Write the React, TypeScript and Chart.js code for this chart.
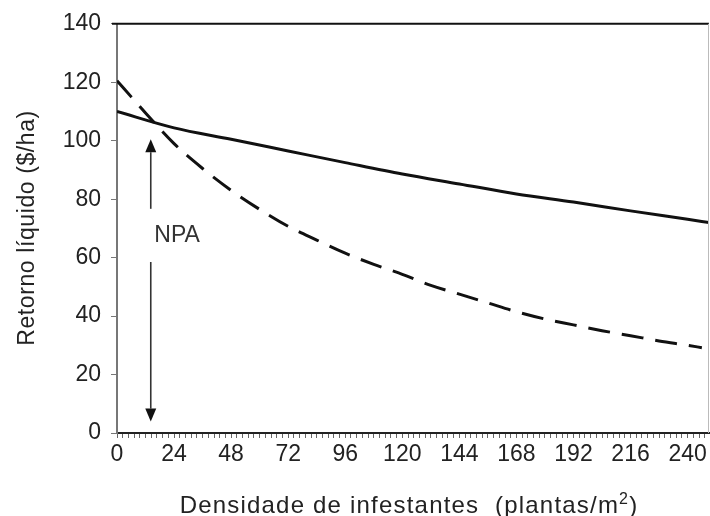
import React, { useEffect, useRef } from "react";
import { Chart, registerables } from "chart.js";

Chart.register(...registerables);

// ---- data ----
const solidX = [0, 24, 48, 72, 96, 120, 144, 168, 192, 216, 240, 249];
const solidY = [110, 104.4, 100.5, 96.5, 92.5, 88.6, 85.2, 81.8, 79, 76, 73.1, 72];

const dashX = [0, 6, 12, 24, 36, 48, 60, 72, 84, 96, 108, 120, 132, 144, 156, 168, 180, 192, 204, 216, 228, 240, 246];
const dashY = [120.5, 115, 109.5, 99, 90.5, 83, 76.5, 70.7, 66, 61.5, 57.7, 54.3, 50.5, 47.5, 44.5, 41.5, 39, 37, 35, 33.3, 31.5, 30, 29.2];

const xTickLabels = [0, 24, 48, 72, 96, 120, 144, 168, 192, 216, 240];
const yTickLabels = [0, 20, 40, 60, 80, 100, 120, 140];

const xTitleMain = "Densidade de infestantes  (plantas/m";
const xTitleSup = "2";
const xTitleEnd = ")";
const yTitle = "Retorno líquido ($/ha)";
const npaLabel = "NPA";

const arrowX = 14.2;
const arrowUpFrom = 76.7;
const arrowUpTo = 100.5;
const arrowDownFrom = 58.5;
const arrowDownTo = 3.9;
const npaX = 25.3;
const npaY = 67.6;

const FONT = "'Liberation Sans', Arial, Helvetica, sans-serif";
const W = 710;
const H = 516;

const decor = {
  id: "decor",
  afterDraw(chart: any) {
    const ctx: CanvasRenderingContext2D = chart.ctx;
    const ca = chart.chartArea;
    const xs = chart.scales.x;
    const ys = chart.scales.y;
    ctx.save();
    // top frame line
    ctx.strokeStyle = "#111";
    ctx.lineWidth = 2;
    ctx.beginPath();
    ctx.moveTo(ca.left - 5, ca.top);
    ctx.lineTo(ca.right, ca.top);
    ctx.stroke();
    // right faint frame
    ctx.strokeStyle = "#bbb";
    ctx.lineWidth = 1;
    ctx.beginPath();
    ctx.moveTo(ca.right - 0.5, ca.top);
    ctx.lineTo(ca.right - 0.5, ca.bottom);
    ctx.stroke();

    // arrows
    const ax = xs.getPixelForValue(arrowX);
    const drawArrow = (from: number, to: number) => {
      const y0 = ys.getPixelForValue(from);
      const y1 = ys.getPixelForValue(to);
      const dir = y1 < y0 ? -1 : 1;
      const headLen = 13;
      const headHalf = 5.5;
      ctx.strokeStyle = "#333";
      ctx.lineWidth = 1.6;
      ctx.beginPath();
      ctx.moveTo(ax, y0);
      ctx.lineTo(ax, y1 - dir * headLen);
      ctx.stroke();
      ctx.fillStyle = "#111";
      ctx.beginPath();
      ctx.moveTo(ax, y1);
      ctx.lineTo(ax - headHalf, y1 - dir * headLen);
      ctx.lineTo(ax + headHalf, y1 - dir * headLen);
      ctx.closePath();
      ctx.fill();
    };
    drawArrow(arrowUpFrom, arrowUpTo);
    drawArrow(arrowDownFrom, arrowDownTo);

    // NPA label
    ctx.fillStyle = "#333";
    ctx.font = `23px ${FONT}`;
    ctx.textAlign = "center";
    ctx.textBaseline = "middle";
    ctx.fillText(npaLabel, xs.getPixelForValue(npaX), ys.getPixelForValue(npaY));

    // x axis title
    (ctx as any).letterSpacing = "1.2px";
    ctx.font = `24px ${FONT}`;
    ctx.fillStyle = "#222";
    ctx.textBaseline = "alphabetic";
    ctx.textAlign = "left";
    const supFont = `16px ${FONT}`;
    const wMain = ctx.measureText(xTitleMain).width;
    ctx.font = supFont;
    const wSup = ctx.measureText(xTitleSup).width;
    ctx.font = `24px ${FONT}`;
    const wEnd = ctx.measureText(xTitleEnd).width;
    const total = wMain + wSup + wEnd;
    const cx = 409;
    const base = 513;
    let x0 = cx - total / 2;
    ctx.fillText(xTitleMain, x0, base);
    x0 += wMain;
    ctx.font = supFont;
    ctx.fillText(xTitleSup, x0, base - 9);
    x0 += wSup;
    ctx.font = `24px ${FONT}`;
    ctx.fillText(xTitleEnd, x0, base);

    // y axis title
    (ctx as any).letterSpacing = "0.6px";
    ctx.font = `23px ${FONT}`;
    ctx.translate(34, 228);
    ctx.rotate(-Math.PI / 2);
    ctx.textAlign = "center";
    ctx.textBaseline = "alphabetic";
    ctx.fillText(yTitle, 0, 0);
    (ctx as any).letterSpacing = "0px";
    ctx.restore();
  },
};

export default function App() {
  const ref = useRef<HTMLCanvasElement | null>(null);

  useEffect(() => {
    if (!ref.current) return;
    const minorTicks: number[] = [];
    for (let i = 0; i * 2.4 <= 249; i++) minorTicks.push(Math.round(i * 2.4 * 1000) / 1000);

    const chart = new Chart(ref.current, {
      type: "line",
      data: {
        datasets: [
          {
            label: "solid",
            data: solidX.map((x, i) => ({ x, y: solidY[i] })),
            borderColor: "#111",
            borderWidth: 3,
            pointRadius: 0,
            fill: false,
            cubicInterpolationMode: "monotone",
          },
          {
            label: "dashed",
            data: dashX.map((x, i) => ({ x, y: dashY[i] })),
            borderColor: "#111",
            borderWidth: 3,
            borderDash: [22, 12],
            pointRadius: 0,
            fill: false,
            cubicInterpolationMode: "monotone",
          },
        ],
      },
      options: {
        animation: false,
        responsive: false,
        maintainAspectRatio: false,
        devicePixelRatio: 1,
        layout: { padding: { top: 23, right: 1, left: 0, bottom: 0 } },
        plugins: { legend: { display: false }, tooltip: { enabled: false } },
        scales: {
          x: {
            type: "linear",
            min: 0,
            max: 249,
            afterBuildTicks: (s: any) => {
              s.ticks = minorTicks.map((v) => ({ value: v }));
            },
            afterFit: (s: any) => {
              s.height = 83;
            },
            grid: {
              display: true,
              drawOnChartArea: false,
              drawTicks: true,
              tickLength: 5,
              color: "#666",
              lineWidth: 1,
            },
            border: { display: true, color: "#222", width: 2 },
            ticks: {
              autoSkip: false,
              maxRotation: 0,
              minRotation: 0,
              padding: 3,
              color: "#222",
              font: { family: FONT, size: 23 },
              callback: (v: any) => {
                const n = Number(v);
                const r = Math.round(n / 24);
                return Math.abs(n - r * 24) < 0.01 && xTickLabels.includes(r * 24) ? String(r * 24) : "";
              },
            },
          },
          y: {
            type: "linear",
            min: 0,
            max: 140,
            afterBuildTicks: (s: any) => {
              s.ticks = yTickLabels.map((v) => ({ value: v }));
            },
            afterFit: (s: any) => {
              s.width = 117;
            },
            grid: {
              display: true,
              drawOnChartArea: false,
              drawTicks: true,
              tickLength: 6,
              color: "#777",
              lineWidth: 1,
            },
            border: { display: true, color: "#777", width: 2 },
            ticks: {
              padding: 10,
              color: "#222",
              font: { family: FONT, size: 23 },
            },
          },
        },
      },
      plugins: [decor],
    } as any);
    return () => chart.destroy();
  }, []);

  return (
    <div style={{ position: "absolute", left: 0, top: 0, width: W, height: H, background: "#fff" }}>
      <canvas ref={ref} width={W} height={H} style={{ width: W, height: H, display: "block" }} />
    </div>
  );
}
